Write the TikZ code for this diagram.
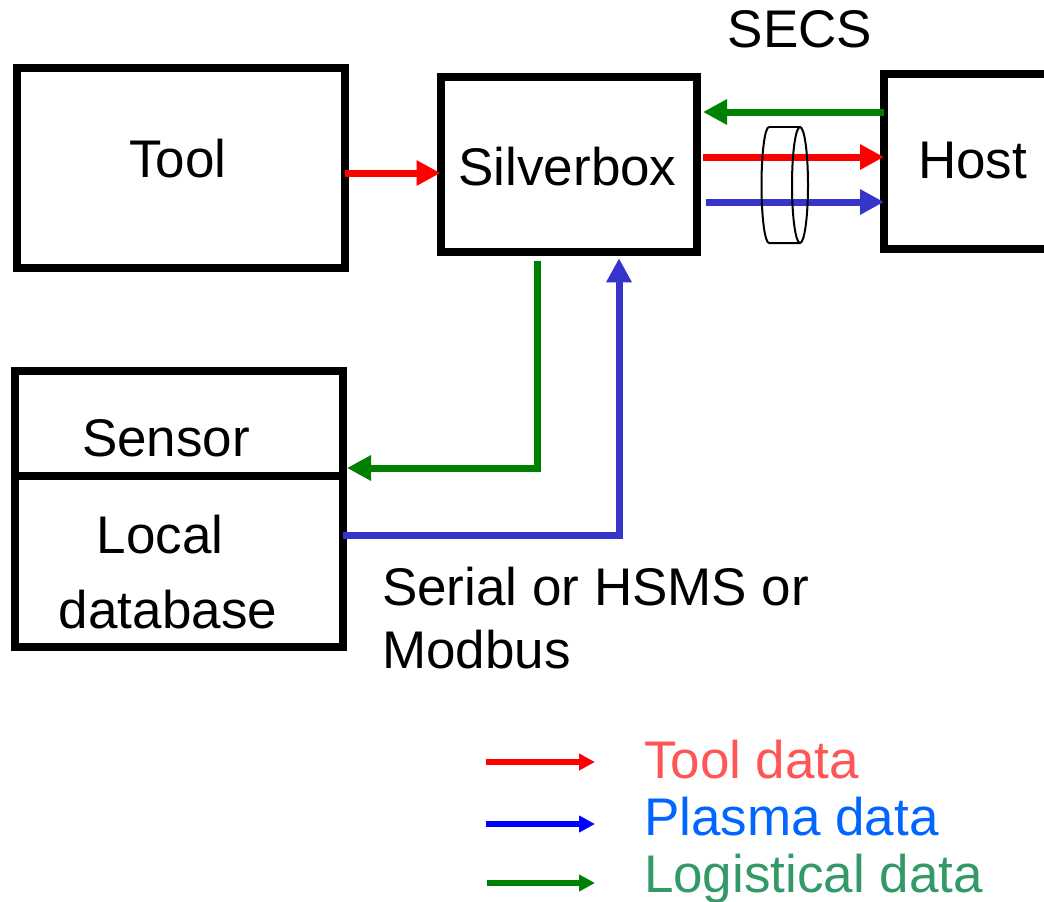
\documentclass[tikz,border=0pt]{standalone}
\usepackage{fontspec}
\setmainfont{Liberation Sans}
\usetikzlibrary{arrows.meta}
\definecolor{toolred}{HTML}{FF0000}
\definecolor{plasmablue}{HTML}{3535CC}
\definecolor{legendblue}{HTML}{0000FF}
\definecolor{logigreen}{HTML}{008000}
\definecolor{tooltext}{HTML}{FF5555}
\definecolor{plasmatext}{HTML}{0066FF}
\definecolor{logitext}{HTML}{339966}
\tikzset{
  block/.style={draw=black, line width=8pt, inner sep=0pt, outer sep=0pt, fill=white},
  lbl/.style={inner sep=0pt, outer sep=0pt, font=\fontsize{53}{63}\selectfont},
  flow/.style={line width=7pt, -{Triangle[length=24pt,width=24pt]}},
  keyarrow/.style={line width=6pt, -{Triangle[length=16pt,width=16pt]}},
  cyl/.style={draw=black, line width=2pt}
}
\begin{document}
\begin{tikzpicture}[x=1pt, y=-1pt]
\useasboundingbox (0,0) rectangle (1044,902);

% blocks
\node[block, minimum width=328pt, minimum height=200pt] (tool) at (181,168) {};
\node[block, minimum width=256.5pt, minimum height=175.5pt] (silver) at (568.75,164.5) {};
\node[block, minimum width=186pt, minimum height=175.5pt] (host) at (977,161.25) {};
\node[block, minimum width=328pt, minimum height=105pt] (sensor) at (179,423.5) {};
\node[block, minimum width=328pt, minimum height=171pt] (localdb) at (179,561.5) {};

% labels (multi-line nodes sit on the baseline of their last line)
\node[lbl, anchor=base] (toollbl) at (178,177) {Tool};
\node[lbl, anchor=base] (silverlbl) at (567.5,185) {Silverbox};
\node[lbl, anchor=base] (hostlbl) at (972.5,178) {Host};
\node[lbl, anchor=base] (secslbl) at (800,47) {SECS};
\node[lbl, anchor=base] (sensorlbl) at (166,456) {Sensor};
\node[lbl, anchor=base, align=center, font=\fontsize{53}{75}\selectfont] (dblbl) at (168,628) {Local\hspace*{16pt}\\database};
\node[lbl, anchor=base west, align=left] (linklbl) at (382,668) {Serial or HSMS or\\Modbus};

% tool -> silverbox
\draw[flow, toolred] (tool.east |- 0,173) -- (silver.west |- 0,173);

% silverbox <-> host
\coordinate (sbR) at (703,0);
\draw[flow, logigreen] (host.west |- 0,112) -- (sbR |- 0,112);
\draw[flow, toolred] (sbR |- 0,157) -- (host.west |- 0,157);
\draw[flow, plasmablue] (706,202) -- (host.west |- 0,202);

% SECS link (cylinder)
\draw[cyl] (769,127) arc[start angle=90, end angle=270, x radius=7.5pt, y radius=58pt] -- (800,243);
\draw[cyl] (769,127) -- (800,127);
\draw[cyl] (800,185) ellipse [x radius=8pt, y radius=58pt];

% silverbox -> sensor
\coordinate (gtop) at (537.5,261);
\coordinate (gcorner) at (537.5,468);
\draw[flow, logigreen, line join=miter] (gtop) -- (gcorner) -- ([xshift=4pt]sensor.east |- gcorner);

% local database -> silverbox
\coordinate (bcorner) at (619,535);
\draw[flow, plasmablue, line join=miter] (localdb.east |- bcorner) -- (bcorner) -- ([yshift=-6pt]bcorner |- silver.south);

% legend
\coordinate (k1) at (486,762);
\coordinate (k2) at (486,824);
\coordinate (k3) at (487,883);
\draw[keyarrow, toolred] (k1) -- ++(109,0);
\draw[keyarrow, legendblue] (k2) -- ++(109,0);
\draw[keyarrow, logigreen] (k3) -- ++(108,0);
\node[lbl, anchor=base west, text=tooltext] (key1) at (644,778) {Tool data};
\node[lbl, anchor=base west, text=plasmatext] (key2) at (644,835) {Plasma data};
\node[lbl, anchor=base west, text=logitext] (key3) at (644,892) {Logistical data};
\end{tikzpicture}
\end{document}
